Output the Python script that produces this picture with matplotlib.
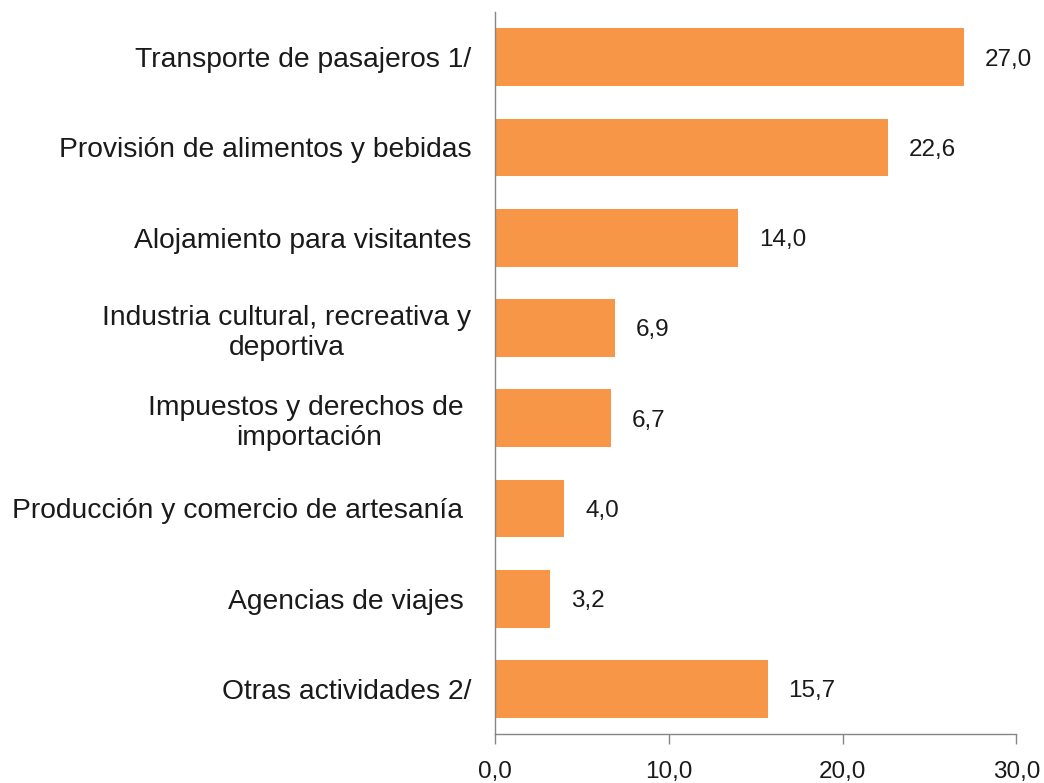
import matplotlib
matplotlib.use("Agg")
import matplotlib.pyplot as plt
import numpy as np

plt.rcParams['font.family'] = ['Liberation Sans', 'DejaVu Sans']

categories = [
    "Transporte de pasajeros 1/",
    "Provisión de alimentos y bebidas",
    "Alojamiento para visitantes",
    "Industria cultural, recreativa y\ndeportiva",
    "Impuestos y derechos de \nimportación",
    "Producción y comercio de artesanía ",
    "Agencias de viajes ",
    "Otras actividades 2/",
]
values = [27.0, 22.6, 14.0, 6.9, 6.7, 4.0, 3.2, 15.7]
xticks = [0, 10, 20, 30]

bar_color = "#F79646"
text_color = "#1a1a1a"
axis_color = "#868686"

fig = plt.figure(figsize=(10.44, 7.83), dpi=100)
ax = fig.add_axes([0.474, 0.0626, 0.4995, 0.922])

y = np.arange(len(categories))
ax.barh(y, values, height=0.64, color=bar_color, zorder=2)

# value labels to the right of each bar
for yi, v in zip(y, values):
    ax.annotate(f"{v:.1f}".replace(".", ","), (v, yi), xytext=(15, 0),
                textcoords="offset points", va="center_baseline", ha="left",
                fontsize=17.5, color=text_color)

ax.set_ylim(len(categories) - 0.5, -0.5)
ax.set_xlim(0, 30)
ax.set_yticks(y)
ax.set_yticklabels(categories, fontsize=20.3, color=text_color)
for lbl in ax.get_yticklabels():
    lbl.set_multialignment("center")
ax.tick_params(axis="y", length=0, pad=17)

ax.set_xticks(xticks)
ax.set_xticklabels([f"{t:.1f}".replace(".", ",") for t in xticks],
                   fontsize=17.5, color=text_color)
ax.tick_params(axis="x", direction="out", length=7.5, width=1,
               color=axis_color, pad=12)

for s in ["top", "right"]:
    ax.spines[s].set_visible(False)
for s in ["left", "bottom"]:
    ax.spines[s].set_color(axis_color)
    ax.spines[s].set_linewidth(1)

fig.savefig("out.png", dpi=100)
